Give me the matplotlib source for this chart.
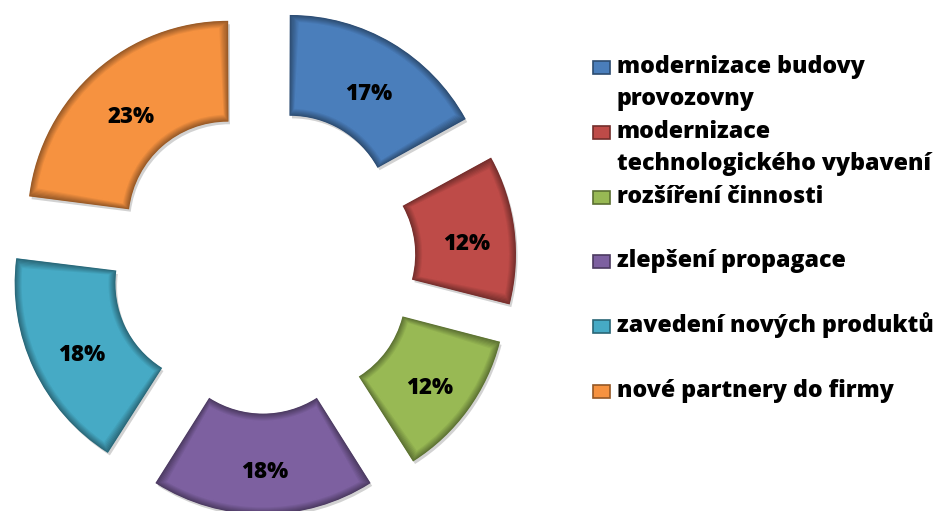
import numpy as np
import matplotlib.pyplot as plt
from matplotlib.patches import Wedge, Rectangle
from matplotlib.colors import to_rgb

# data
kategorie = ['modernizace budovy\nprovozovny',
             'modernizace\ntechnologického vybavení',
             'rozšíření činnosti',
             'zlepšení propagace',
             'zavedení nových produktů',
             'nové partnery do firmy']
hodnoty = [17, 12, 12, 18, 18, 23]
barvy = ['#4A7EBB', '#BE4B48', '#98B954', '#7D60A0', '#46AAC5', '#F69240']

plt.rcParams['font.family'] = ['Open Sans', 'DejaVu Sans']

fig = plt.figure(figsize=(9.41, 5.11), dpi=100)
ax = fig.add_axes([0, 0, 1, 1])

# pixel-ish coordinates, y up
stred = (263, 250)
polomer = 200
sirka = 100

wedges, texts, autotexts = ax.pie(
    hodnoty, colors=barvy, startangle=90, counterclock=False,
    center=stred, radius=polomer, explode=[53] * len(hodnoty),
    wedgeprops=dict(width=sirka, linewidth=0),
    autopct='%.0f%%', pctdistance=0.75,
    textprops=dict(fontsize=16, fontweight=800, color='black'))

# shadow + bevel look
for w, c in zip(wedges, barvy):
    rgb = np.array(to_rgb(c))
    cx, cy = w.center
    stin = Wedge((cx + 2, cy - 3), w.r, w.theta1, w.theta2, width=w.width,
                 facecolor='#808080', alpha=0.35, linewidth=0, zorder=0.5)
    ax.add_patch(stin)
    n = 8
    for k in range(n):
        t = k / (n - 1)
        col = rgb * (0.62 + 0.38 * t)
        ins = k + 0.5
        rm = w.r - w.width / 2
        da = np.degrees(ins / rm)
        e = Wedge((cx, cy), w.r - ins, w.theta1 + da, w.theta2 - da,
                  width=w.width - 2 * ins, facecolor='none',
                  edgecolor=tuple(np.clip(col, 0, 1)), linewidth=1.3,
                  zorder=1.5)
        ax.add_patch(e)

# Excel puts the labels a bit lower
for t in autotexts:
    x, y = t.get_position()
    t.set_position((x + 2, y - 8))
    t.set_zorder(5)

# legend drawn by hand
zaklad = 511 - 73
krok = 64.8
for i, (lab, c) in enumerate(zip(kategorie, barvy)):
    y = zaklad - i * krok
    rgb = np.array(to_rgb(c))
    ax.add_patch(Rectangle((593, y - 1), 17, 13, facecolor=c,
                           edgecolor=tuple(rgb * 0.6), linewidth=1.2,
                           zorder=3))
    for j, radek in enumerate(lab.split('\n')):
        ax.text(617, y - j * 32, radek, fontsize=16.7, fontweight=800,
                ha='left', va='baseline', color='black')

ax.set_xlim(0, 941)
ax.set_ylim(0, 511)
ax.set_aspect('equal')
ax.axis('off')

plt.savefig('out.png', dpi=100)
